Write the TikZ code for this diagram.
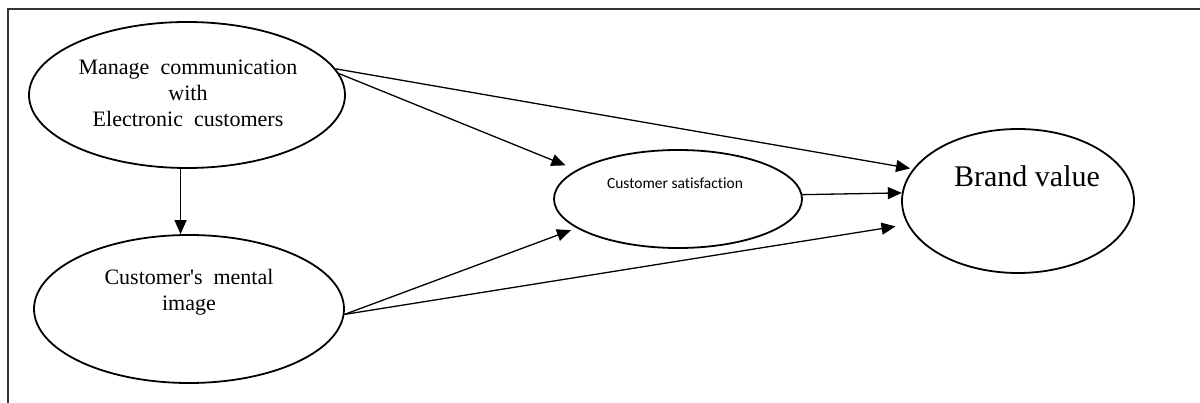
\documentclass[tikz,border=0pt]{standalone}
\usepackage{fontspec}
\setmainfont{Liberation Serif}
\newfontfamily\calib[Ligatures={NoCommon}]{Carlito}
\usetikzlibrary{shapes.geometric,arrows.meta}
\begin{document}
\begin{tikzpicture}[x=1pt,y=-1pt,
  oval/.style={ellipse,draw,line width=1.8pt,inner sep=0pt},
  lbl/.style={align=center,inner sep=0pt,font=\fontsize{22}{26}\selectfont},
  conn/.style={line width=1.3pt,-{Triangle[length=14pt,width=12pt]}}]
\useasboundingbox (0,0) rectangle (1200,403);
\draw[line width=2pt,black!80] (1200,9) -- (8,9) -- (8,403);
% ellipses
\node[oval,minimum width=316pt,minimum height=146pt] (mce) at (187,95) {};
\node[oval,minimum width=310pt,minimum height=148pt] (cmi) at (189,309) {};
\node[oval,minimum width=248pt,minimum height=98pt] (cs) at (678,199) {};
\node[oval,minimum width=232pt,minimum height=144pt] (bv) at (1018,201) {};
% texts
\node[lbl] (mcet) at (188,93) {Manage\ \ communication\\with\\Electronic\ \ customers};
\node[lbl] (cmit) at (189,292) {Customer\textquotesingle s\ \ mental\\image};
\node[inner sep=0pt,font=\calib\fontsize{15.5}{18}\selectfont] (cst) at (675,183) {Customer satisfaction};
\node[inner sep=0pt,font=\fontsize{30}{34}\selectfont] (bvt) at (1027,176) {Brand value};
% connectors
\draw[conn] (mce.265) -- (mce.265 |- cmi.north);
\draw[conn,shorten >=3pt] (mce.10.4) -- (bv.163.5);
\draw[conn,shorten >=12pt] (mce.8.3) -- (cs.164.7);
\draw[conn,shorten >=6pt] (cmi.358.5) -- (cs.196.3);
\draw[conn,shorten >=12pt] (cmi.358.5) -- (bv.192.1);
\draw[conn] (cs.2) -- (bv.176);
\end{tikzpicture}
\end{document}
